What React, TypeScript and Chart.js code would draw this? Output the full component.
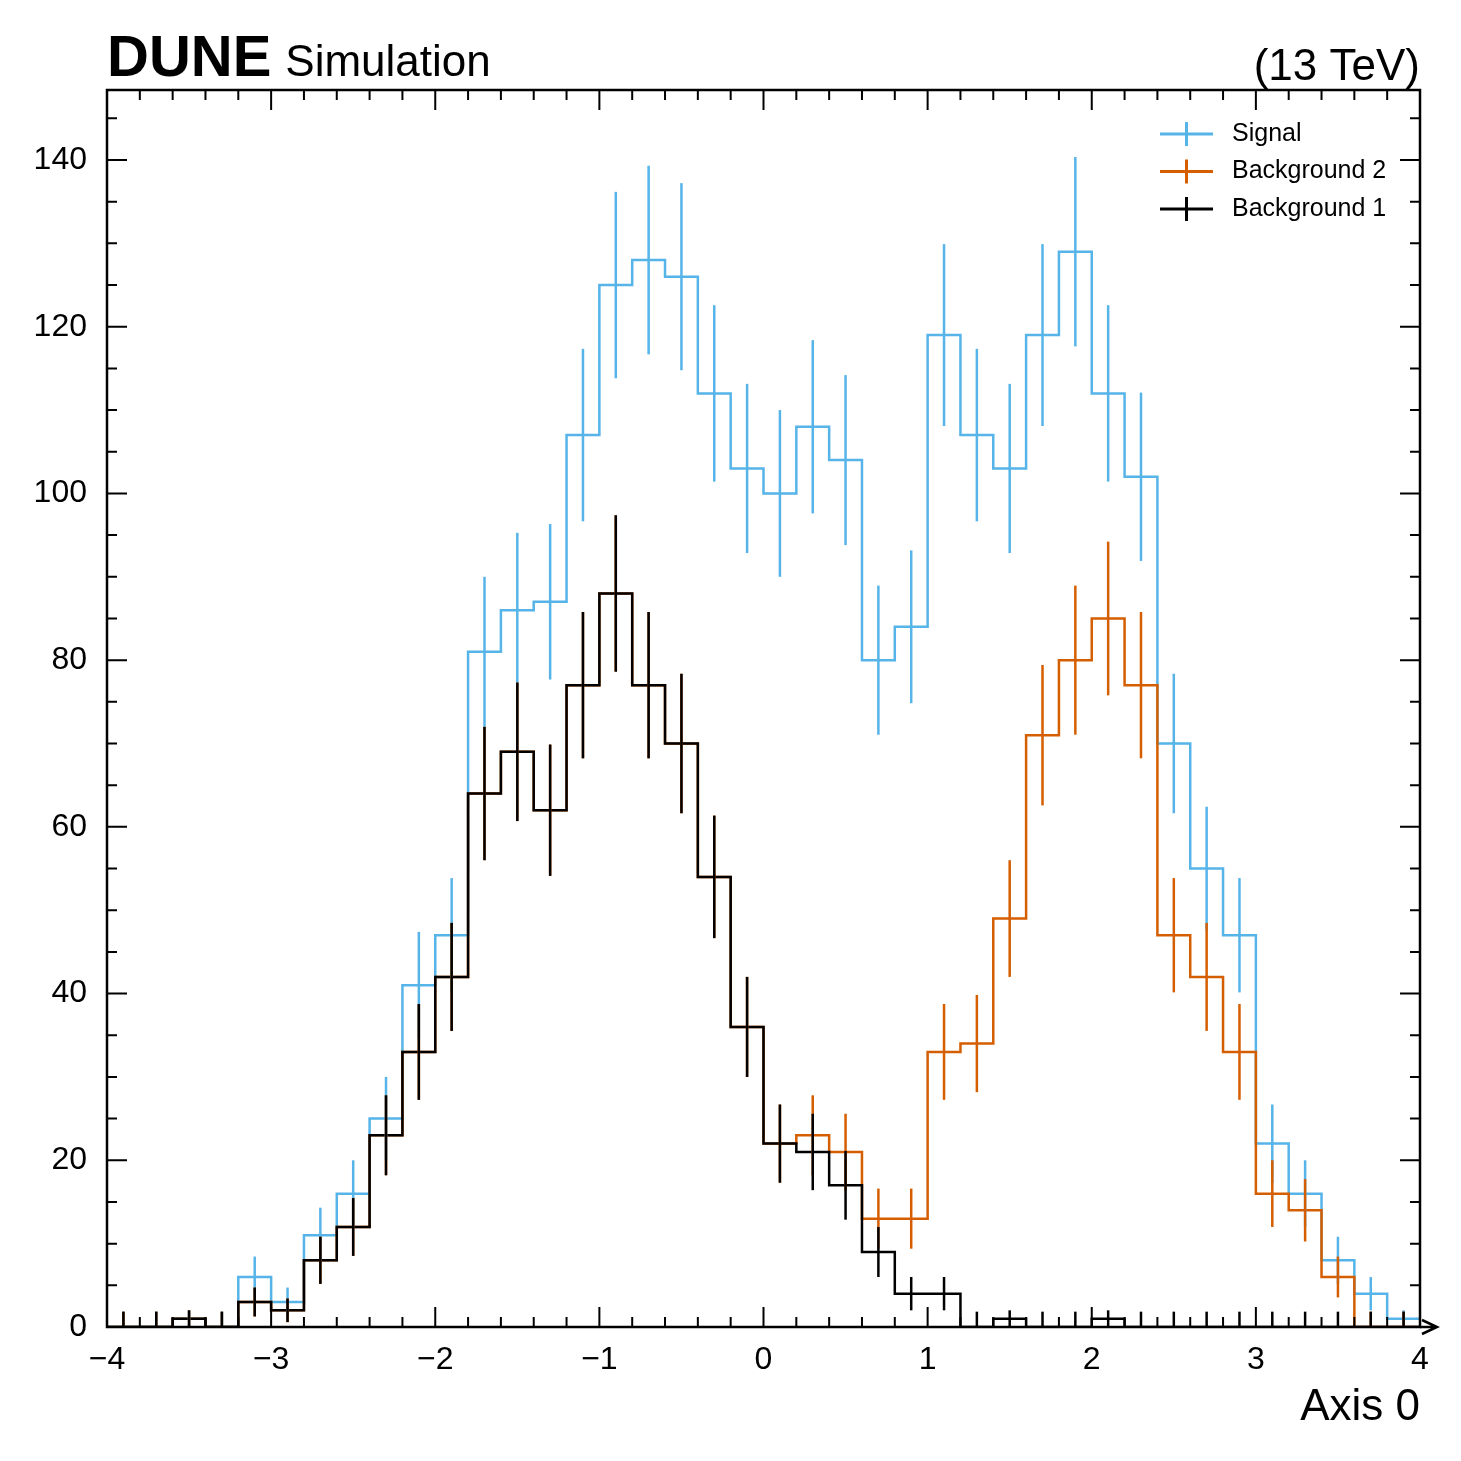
import React, { useEffect, useRef } from "react";
import { Chart, registerables } from "chart.js";
Chart.register(...registerables);

const binEdgesStart = -4;
const binWidth = 0.2;
const background1 = [0,0,1,0,3,2,8,12,23,33,42,64,69,62,77,88,77,70,54,36,22,21,17,9,4,4,0,1,0,0,1,0,0,0,0,0,0,0,0,0];
const bkg12Total = [0,0,1,0,3,2,8,12,23,33,42,64,69,62,77,88,77,70,54,36,22,23,21,13,13,33,34,49,71,80,85,77,47,42,33,16,14,6,0,0];
const signalTotal = [0,0,1,0,6,3,11,16,25,41,47,81,86,87,107,125,128,126,112,103,100,108,104,80,84,119,107,103,119,129,112,102,70,55,47,22,16,8,4,1];
const seriesLabels = ["Signal", "Background 2", "Background 1"];
const seriesColors = ["#56b4e9", "#d55e00", "#000000"];
const xTicks = [-4,-3,-2,-1,0,1,2,3,4];
const yTicks = [0,20,40,60,80,100,120,140];
const FONT = "'Liberation Sans', Arial, sans-serif";

function steps(vals: number[]) {
  const pts = vals.map((v, i) => ({ x: binEdgesStart + i * binWidth, y: v }));
  pts.push({ x: binEdgesStart + vals.length * binWidth, y: vals[vals.length - 1] });
  return pts;
}

export default function App() {
  const ref = useRef<HTMLCanvasElement>(null);
  useEffect(() => {
    const all = [signalTotal, bkg12Total, background1];
    const plugin = {
      id: "hep",
      afterDatasetsDraw(chart: any) {
        const { ctx, chartArea: a, scales } = chart;
        const xs = scales.x, ys = scales.y;
        ctx.save();
        ctx.beginPath(); ctx.rect(a.left, a.top - 2, a.right - a.left, a.bottom - a.top + 2); ctx.clip();
        all.forEach((vals, si) => {
          ctx.strokeStyle = seriesColors[si]; ctx.lineWidth = 2.5;
          vals.forEach((v, i) => {
            const c = binEdgesStart + (i + 0.5) * binWidth;
            const e = v > 0 ? Math.sqrt(v) : 1.84;
            const lo = Math.max(0, v - (v > 0 ? e : 0));
            ctx.beginPath();
            ctx.moveTo(xs.getPixelForValue(c), ys.getPixelForValue(lo));
            ctx.lineTo(xs.getPixelForValue(c), ys.getPixelForValue(v + e));
            ctx.stroke();
          });
        });
        ctx.restore();
      },
      afterDraw(chart: any) {
        const { ctx, chartArea: a, scales } = chart;
        const xs = scales.x, ys = scales.y;
        ctx.save();
        ctx.strokeStyle = "#000"; ctx.lineWidth = 2;
        for (let k = 0; k <= 40; k++) {
          const v = -4 + k * 0.2; const px = xs.getPixelForValue(v);
          const L = k % 5 === 0 ? 20 : 10;
          ctx.beginPath(); ctx.moveTo(px, a.bottom); ctx.lineTo(px, a.bottom - L);
          ctx.moveTo(px, a.top); ctx.lineTo(px, a.top + L); ctx.stroke();
        }
        for (let v = 0; v <= 145; v += 5) {
          const py = ys.getPixelForValue(v); const L = v % 20 === 0 ? 20 : 10;
          ctx.beginPath(); ctx.moveTo(a.left, py); ctx.lineTo(a.left + L, py);
          ctx.moveTo(a.right, py); ctx.lineTo(a.right - L, py); ctx.stroke();
        }
        ctx.lineWidth = 2.5;
        ctx.strokeRect(a.left, a.top, a.right - a.left, a.bottom - a.top);
        ctx.beginPath(); ctx.moveTo(a.right, a.bottom); ctx.lineTo(a.right + 17, a.bottom);
        ctx.moveTo(a.right + 2, a.bottom - 7); ctx.lineTo(a.right + 17, a.bottom); ctx.lineTo(a.right + 2, a.bottom + 7); ctx.stroke();
        ctx.fillStyle = "#000"; ctx.textBaseline = "alphabetic";
        ctx.font = `bold 58px ${FONT}`; ctx.textAlign = "left";
        ctx.fillText("DUNE", a.left, 76);
        const w = ctx.measureText("DUNE").width;
        ctx.font = `44px ${FONT}`; ctx.fillText("Simulation", a.left + w + 14, 76);
        ctx.textAlign = "right"; ctx.fillText("(13 TeV)", a.right, 80);
        ctx.font = `44px ${FONT}`; ctx.fillText("Axis 0", a.right, 1420);
        ctx.textAlign = "left"; ctx.textBaseline = "middle"; ctx.font = `25px ${FONT}`;
        seriesLabels.forEach((lab, i) => {
          const y = 134 + i * 37.5;
          ctx.strokeStyle = seriesColors[i]; ctx.lineWidth = 3;
          ctx.beginPath(); ctx.moveTo(1160, y); ctx.lineTo(1213, y);
          ctx.moveTo(1186.5, y - 12); ctx.lineTo(1186.5, y + 12); ctx.stroke();
          ctx.fillStyle = "#000"; ctx.fillText(lab, 1232, y);
        });
        ctx.restore();
      },
    };
    const chart = new Chart(ref.current!, {
      type: "line",
      data: {
        datasets: all.map((vals, i) => ({
          label: seriesLabels[i], data: steps(vals), stepped: "before" as const,
          borderColor: seriesColors[i], borderWidth: 2.5, pointRadius: 0, fill: false,
        })).reverse(),
      },
      options: {
        animation: false, responsive: false,
        layout: { padding: { top: 90, right: 41, left: 0, bottom: 0 } },
        plugins: { legend: { display: false }, tooltip: { enabled: false } },
        scales: {
          x: {
            type: "linear", min: -4, max: 4,
            afterFit: (s: any) => { s.height = 134; },
            afterBuildTicks: (s: any) => { s.ticks = xTicks.map((v) => ({ value: v })); },
            grid: { display: false }, border: { display: false },
            ticks: { font: { family: FONT, size: 32 }, color: "#000", padding: 6,
              callback: (v: any) => (Number(v) < 0 ? "\u2212" + Math.abs(Number(v)) : String(v)) },
          },
          y: {
            min: 0, max: 148.4,
            afterFit: (s: any) => { s.width = 107; },
            afterBuildTicks: (s: any) => { s.ticks = yTicks.map((v) => ({ value: v })); },
            grid: { display: false }, border: { display: false },
            ticks: { font: { family: FONT, size: 32 }, color: "#000", padding: 12 },
          },
        },
      },
      plugins: [plugin],
    });
    return () => chart.destroy();
  }, []);
  return <canvas ref={ref} width={1461} height={1461} style={{ position: "fixed", left: 0, top: 0, width: 1461, height: 1461 }} />;
}
